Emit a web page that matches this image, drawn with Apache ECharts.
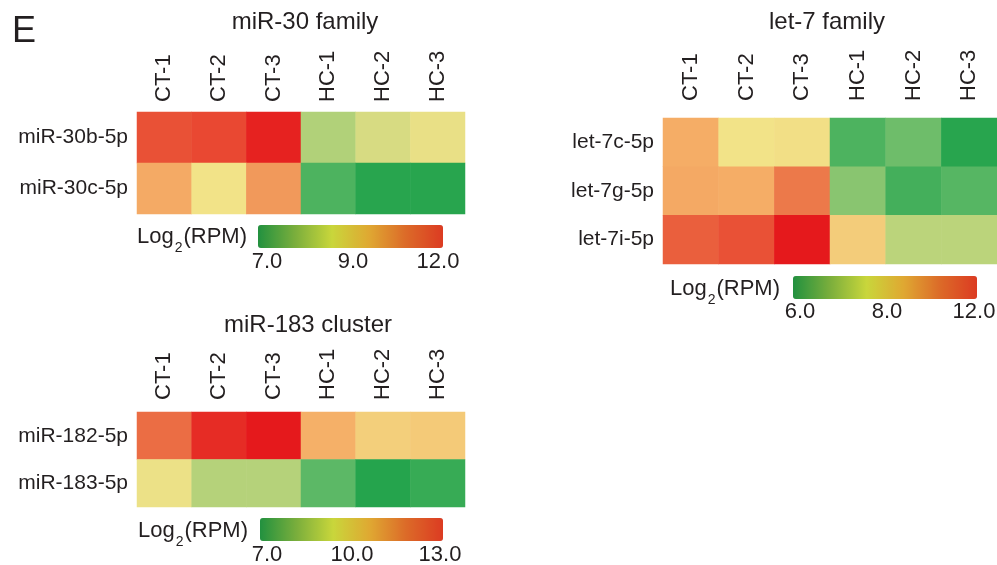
<!DOCTYPE html>
<html>
<head>
<meta charset="utf-8">
<script src="https://cdn.jsdelivr.net/npm/echarts@6/dist/echarts.min.js"></script>
<style>
  html, body { margin: 0; padding: 0; background: #fff; }
  #chart { width: 997px; height: 565px; }
</style>
</head>
<body>
<div id="chart"></div>
<script>
// sample names, same for all three panels
const samples = ['CT-1', 'CT-2', 'CT-3', 'HC-1', 'HC-2', 'HC-3'];

// miR-30 family (Log2 RPM)
const mir30Rows = ['miR-30b-5p', 'miR-30c-5p'];
const mir30b = [11.4, 11.5, 11.9, 8.3, 8.7, 8.9];
const mir30c = [10.1, 9.0, 10.4, 7.5, 7.1, 7.1];
const mir30Ticks = [7.0, 9.0, 12.0];

// let-7 family
const let7Rows = ['let-7c-5p', 'let-7g-5p', 'let-7i-5p'];
const let7c = [9.4, 8.0, 8.1, 6.5, 6.8, 6.1];
const let7g = [9.5, 9.4, 10.6, 7.0, 6.4, 6.6];
const let7i = [11.0, 11.2, 12.0, 8.6, 7.4, 7.4];
const let7Ticks = [6.0, 8.0, 12.0];

// miR-183 cluster
const mir183Rows = ['miR-182-5p', 'miR-183-5p'];
const mir182 = [12.1, 12.8, 13.0, 11.0, 10.4, 10.5];
const mir183 = [9.9, 9.0, 9.0, 8.0, 7.1, 7.4];
const mir183Ticks = [7.0, 10.0, 13.0];

const FONT = 'Liberation Sans, Arial, sans-serif';
const INK = '#231f20';
const cellColors = ['#1fa24a', '#5cb866', '#b5d27a', '#f2e388', '#f5b068', '#ec7648', '#e5191c'];
const barColors = ['#22913f', '#7aae3c', '#c9d63b', '#dfa832', '#dc6a28', '#dc3b22'];

// scale is min - mid - max, mid sits in the middle of the colour bar
function toPos(v, ticks) {
    const [lo, mid, hi] = ticks;
    if (v <= mid) return (v - lo) / (mid - lo) * 0.5;
    return 0.5 + (v - mid) / (hi - mid) * 0.5;
}

function cells(rows, ticks) {
    const out = [];
    rows.forEach((r, y) => r.forEach((v, x) => out.push([x, y, v, toPos(v, ticks)])));
    return out;
}

const panels = [
    { title: 'miR-30 family', tx: 305, ty: 22, rows: mir30Rows, data: [mir30b, mir30c], ticks: mir30Ticks,
      grid: { left: 137, top: 112, width: 328, height: 102 }, xMargin: 10,
      bar: { x: 258, y: 225, w: 185 }, tickX: [267, 353, 438], tickY: 262, logX: 247, logY: 237 },
    { title: 'let-7 family', tx: 827, ty: 22, rows: let7Rows, data: [let7c, let7g, let7i], ticks: let7Ticks,
      grid: { left: 663, top: 118, width: 334, height: 146 }, xMargin: 17,
      bar: { x: 793, y: 276, w: 184 }, tickX: [800, 887, 974], tickY: 312, logX: 780, logY: 289 },
    { title: 'miR-183 cluster', tx: 308, ty: 325, rows: mir183Rows, data: [mir182, mir183], ticks: mir183Ticks,
      grid: { left: 137, top: 412, width: 328, height: 95 }, xMargin: 12,
      bar: { x: 260, y: 518, w: 183 }, tickX: [267, 352, 440], tickY: 555, logX: 248, logY: 531 }
];

const grid = [], xAxis = [], yAxis = [], series = [], visualMap = [];
const graphic = [{
    type: 'text', left: 12, top: 14,
    style: { text: 'E', font: '36px ' + FONT, fill: INK }
}];

panels.forEach((p, i) => {
    grid.push(p.grid);
    xAxis.push({
        type: 'category', gridIndex: i, data: samples, position: 'top',
        axisLine: { show: false }, axisTick: { show: false }, splitArea: { show: false },
        axisLabel: { rotate: -90, margin: p.xMargin, fontSize: 22, fontFamily: FONT, color: INK }
    });
    yAxis.push({
        type: 'category', gridIndex: i, data: p.rows, inverse: true,
        axisLine: { show: false }, axisTick: { show: false },
        axisLabel: { margin: 9, fontSize: 21, fontFamily: FONT, color: INK }
    });
    series.push({
        type: 'heatmap', xAxisIndex: i, yAxisIndex: i,
        data: cells(p.data, p.ticks),
        itemStyle: { borderWidth: 0 },
        emphasis: { disabled: true }
    });
    // cell colours
    visualMap.push({
        type: 'continuous', show: false, seriesIndex: i, dimension: 3,
        min: 0, max: 1, inRange: { color: cellColors }
    });
    // colour bar
    visualMap.push({
        type: 'continuous', show: true, seriesIndex: [], orient: 'horizontal',
        min: 0, max: 1, calculable: false, text: null, padding: 0,
        left: p.bar.x, top: p.bar.y, itemWidth: 23, itemHeight: p.bar.w,
        inRange: { color: barColors }, hoverLink: false
    });

    graphic.push({
        type: 'text', x: p.tx, y: p.ty,
        style: { text: p.title, font: '24px ' + FONT, fill: INK, textAlign: 'center', textVerticalAlign: 'middle' }
    });
    graphic.push({
        type: 'text', x: p.logX, y: p.logY,
        style: {
            text: '{a|Log}{b|2}{a|(RPM)}', textAlign: 'right', textVerticalAlign: 'middle',
            rich: {
                a: { fontSize: 22, fontFamily: FONT, fill: INK, color: INK },
                b: { fontSize: 14, fontFamily: FONT, fill: INK, color: INK, padding: [22, 1, 0, 1] }
            }
        }
    });
    p.ticks.forEach((t, k) => {
        graphic.push({
            type: 'text', x: p.tickX[k], y: p.tickY,
            style: { text: t.toFixed(1), font: '22px ' + FONT, fill: INK, textAlign: 'center', textVerticalAlign: 'middle' }
        });
    });
});

const chart = echarts.init(document.getElementById('chart'), null, { renderer: 'canvas' });
chart.setOption({
    backgroundColor: '#fff',
    animation: false,
    grid, xAxis, yAxis, series, visualMap, graphic
});
</script>
</body>
</html>
